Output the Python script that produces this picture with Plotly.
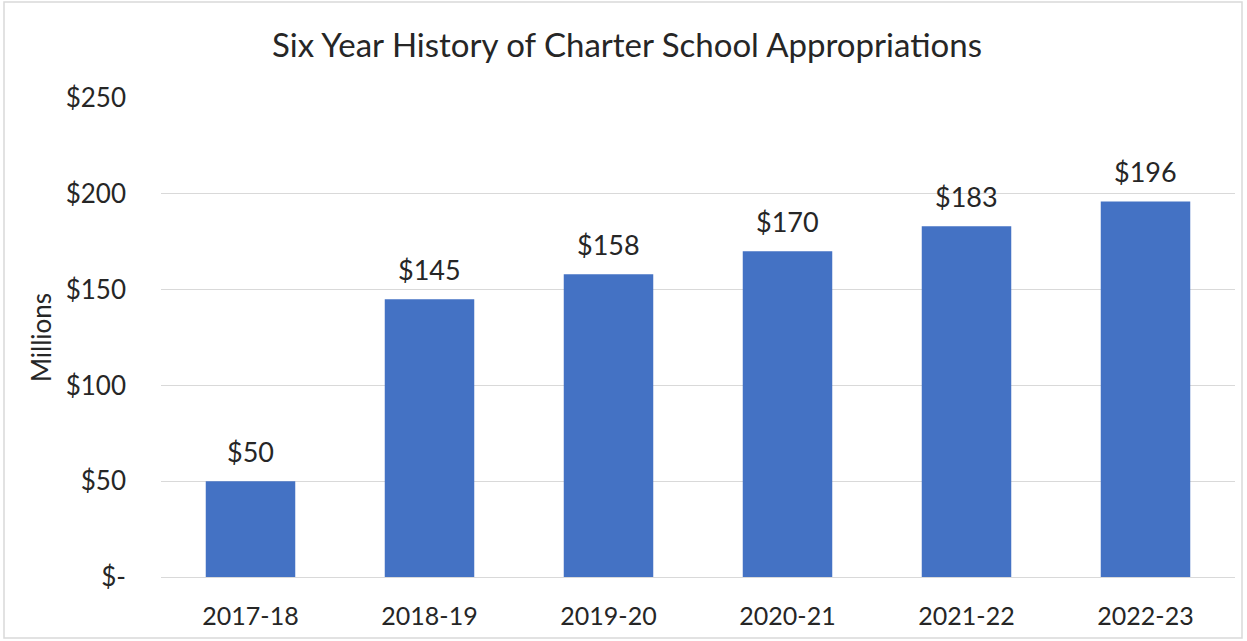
import plotly.graph_objects as go

categories = ["2017-18", "2018-19", "2019-20", "2020-21", "2021-22", "2022-23"]
values = [50, 145, 158, 170, 183, 196]
tick_vals = [0, 50, 100, 150, 200, 250]
tick_text = ["$-", "$50", "$100", "$150", "$200", "$250"]
labels = ["$" + str(v) for v in values]

FONT = "Lato, 'Open Sans', sans-serif"
TXT = "#262626"

fig = go.Figure(go.Bar(
    x=categories, y=values,
    marker=dict(color="#4472C4", line=dict(width=0)),
    width=0.5, hoverinfo="x+y",
))

for c, v, t in zip(categories, values, labels):
    fig.add_annotation(x=c, y=v, text=t, showarrow=False, xanchor="center",
                       yanchor="bottom", yshift=11,
                       font=dict(size=27, color=TXT, family=FONT))

W, H = 1247, 641
L, R, T, B = 161, 12, 98, 64
pw, ph = W - L - R, H - T - B

fig.update_layout(
    width=W, height=H,
    margin=dict(l=L, r=R, t=T, b=B, autoexpand=False),
    paper_bgcolor="white", plot_bgcolor="white",
    showlegend=False,
    font=dict(family=FONT, color=TXT),
    title=dict(text="Six Year History of Charter School Appropriations",
               x=627 / W, xanchor="center", y=1 - 45 / H, yanchor="middle",
               font=dict(size=33, color=TXT, family=FONT)),
    xaxis=dict(showgrid=False, showline=False, ticks="",
               tickfont=dict(size=25, color=TXT), ticklabelstandoff=22),
    yaxis=dict(range=[0, 250], tickvals=tick_vals, ticktext=tick_text,
               showgrid=True, gridcolor="#D9D9D9", gridwidth=1.3,
               zeroline=True, zerolinecolor="#D9D9D9", zerolinewidth=1.3,
               ticks="", tickfont=dict(size=26, color=TXT),
               ticklabelstandoff=34,
               title=dict(text="Millions", font=dict(size=26, color=TXT),
                          standoff=6)),
)

fig.add_shape(type="rect", xref="paper", yref="paper",
              x0=(4 - L) / pw, x1=(1242 - L) / pw,
              y0=(H - B - 638) / ph, y1=(H - B - 2) / ph,
              line=dict(color="#D9D9D9", width=1.5), fillcolor="rgba(0,0,0,0)")

fig.write_html("out.html", config={"displayModeBar": False},
               post_script="document.body.style.margin='0';document.body.style.padding='0';")
